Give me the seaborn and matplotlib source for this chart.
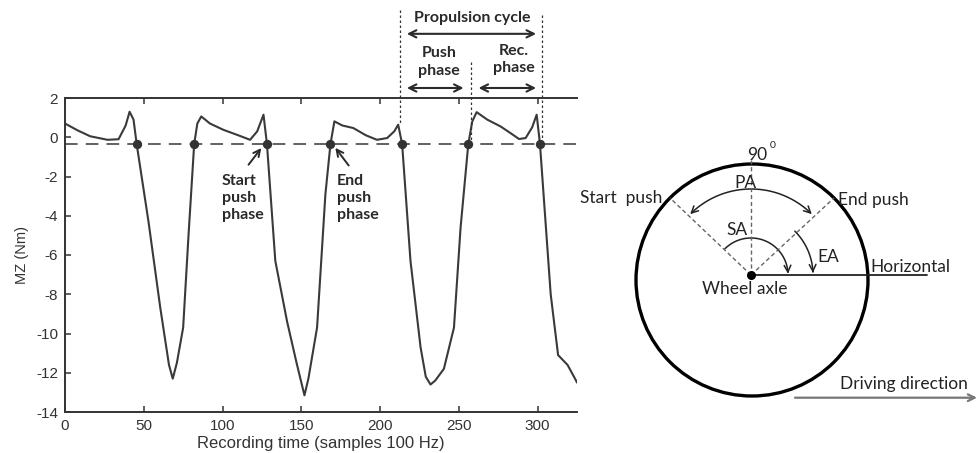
import numpy as np
import matplotlib
matplotlib.use("Agg")
import matplotlib.pyplot as plt
from matplotlib.patches import Circle, FancyArrowPatch
from matplotlib.path import Path
import pandas as pd
import seaborn as sns

# Wheel torque MZ (Nm) against recording time (samples at 100 Hz)
time_samples = [0, 8, 16, 27, 34, 38.5, 41, 43.5, 45.5,
                53, 60.5, 66, 68.4, 71, 75, 78.4, 82, 84, 86.5,
                92, 100.5, 110, 117.5, 122, 126, 128.2,
                133.5, 141, 147, 152, 154.5, 160, 165.3, 168.5, 171,
                176, 183, 191, 198, 204.5, 209, 211.5, 214,
                219.3, 225.7, 229, 232, 235, 240.5, 246.9, 251.1, 256, 258.5, 261.3,
                268, 276.5, 283, 288.2, 292.4, 296.5, 299.4, 301.5,
                308.3, 313, 319, 324.2, 325]
mz_torque = [0.7, 0.35, 0.05, -0.13, -0.1, 0.6, 1.3, 0.9, -0.35,
             -4.3, -8.7, -11.6, -12.3, -11.5, -9.7, -5.0, -0.35, 0.7, 1.06,
             0.7, 0.38, 0.1, -0.13, 0.3, 1.15, -0.35,
             -6.3, -9.4, -11.5, -13.15, -12.3, -9.7, -2.9, -0.35, 0.81,
             0.6, 0.47, 0.1, -0.13, -0.04, 0.3, 0.64, -0.35,
             -6.3, -10.7, -12.2, -12.6, -12.4, -11.8, -9.7, -4.6, -0.35, 0.8, 1.28,
             0.9, 0.55, 0.2, -0.09, -0.04, 0.5, 1.15, -0.35,
             -8.0, -11.1, -11.6, -12.37, -12.5]

# Push detection threshold and the samples where the torque crosses it
threshold = -0.35
crossing_samples = [45.5, 82, 128.2, 168.5, 214, 256, 301.5]

# Boundaries of one propulsion cycle: start push, end push, next start push
cycle_marks = [212.5, 258, 303]

x_ticks = [0, 50, 100, 150, 200, 250, 300]
y_ticks = [-14, -12, -10, -8, -6, -4, -2, 0, 2]

# Wheel diagram angles (degrees from horizontal)
start_push_deg = 135
end_push_deg = 45

sns.set_theme(style="white")
plt.rcParams["font.family"] = ["Liberation Sans", "DejaVu Sans"]
plt.rcParams["axes.unicode_minus"] = False

ink = "#2a2a2a"
fig = plt.figure(figsize=(9.78, 4.53), dpi=100)
W, H = 978.0, 453.0

# ---------------- torque curve ----------------
ax = fig.add_axes([65 / W, 1 - 412 / H, (577 - 65) / W, (412 - 98) / H])
df = pd.DataFrame({"time": time_samples, "MZ": mz_torque})
sns.lineplot(data=df, x="time", y="MZ", ax=ax, color="#3a3a3a", lw=1.5,
             sort=False, estimator=None)
ax.axhline(threshold, color="#555555", lw=1.3, dashes=(7, 4.5), zorder=1)
sns.scatterplot(x=crossing_samples, y=[threshold] * len(crossing_samples), ax=ax,
                s=45, color="#333333", edgecolor="#333333", linewidth=0, zorder=5)

ax.set_xlim(0, 325)
ax.set_ylim(-14, 2)
ax.set_xticks(x_ticks)
ax.set_yticks(y_ticks)
ax.tick_params(direction="in", length=4.5, width=1.1, color="#333333",
               top=True, bottom=True, left=True, right=False,
               labelsize=11, labelcolor="#333333", pad=5)
for side in ["left", "bottom", "top"]:
    ax.spines[side].set_visible(True)
    ax.spines[side].set_color("#333333")
    ax.spines[side].set_linewidth(1.4)
ax.spines["right"].set_visible(False)
ax.set_xlabel("Recording time (samples 100 Hz)", fontsize=12, color="#333333", labelpad=2)
ax.set_ylabel("MZ (Nm)", fontsize=10.5, color="#333333", labelpad=5)

bold = dict(family=["Lato", "DejaVu Sans"], fontweight="bold", fontsize=11.5, color=ink)
ax.text(99.6, -3.09, "Start\npush\nphase", ha="left", va="center", linespacing=1.3, **bold)
ax.text(172.7, -3.09, "End\npush\nphase", ha="left", va="center", linespacing=1.3, **bold)
arr = dict(arrowstyle="->", lw=1.4, color=ink, mutation_scale=12, shrinkA=0, shrinkB=0)
ax.annotate("", xy=(124.6, -0.55), xytext=(116.5, -1.40), arrowprops=arr)
ax.annotate("", xy=(171.6, -0.54), xytext=(180.1, -1.44), arrowprops=arr)

# propulsion cycle markers above the axes
dot = dict(color="#333333", lw=0.9, linestyle=(0, (2, 2)), clip_on=False)
ax.plot([cycle_marks[0]] * 2, [6.5, 0.6], **dot)
ax.plot([cycle_marks[1]] * 2, [3.85, -0.3], **dot)
ax.plot([cycle_marks[2]] * 2, [6.25, -0.3], **dot)
darr = dict(arrowstyle="<->", lw=1.5, color=ink, mutation_scale=13, shrinkA=0, shrinkB=0)
ax.annotate("", xy=(cycle_marks[0] + 4.5, 5.27), xytext=(cycle_marks[2] - 4, 5.27),
            arrowprops=darr, annotation_clip=False)
ax.annotate("", xy=(cycle_marks[0] + 4.5, 2.51), xytext=(cycle_marks[1] - 5, 2.51),
            arrowprops=darr, annotation_clip=False)
ax.annotate("", xy=(cycle_marks[1] + 4.5, 2.51), xytext=(cycle_marks[2] - 4, 2.51),
            arrowprops=darr, annotation_clip=False)
ax.text(258.5, 6.1, "Propulsion cycle", ha="center", va="center", clip_on=False, **bold)
ax.text(237.3, 3.83, "Push\nphase", ha="center", va="center", linespacing=1.3, clip_on=False, **bold)
ax.text(285, 3.95, "Rec.\nphase", ha="center", va="center", linespacing=1.3, clip_on=False, **bold)

# ---------------- wheel diagram ----------------
x0 = 565
ax2 = fig.add_axes([x0 / W, 0, (W - x0) / W, 1])
ax2.set_xlim(x0, W)
ax2.set_ylim(H, 0)
ax2.axis("off")

cx, cy, R = 752, 280, 116
axle = (751, 275)
ax2.add_patch(Circle((cx, cy), R, fill=False, lw=2.4, ec="black"))
ax2.plot(*axle, "o", color="black", ms=5.5, zorder=5)


def on_circle(deg):
    t = np.deg2rad(deg)
    return cx + R * np.cos(t), cy - R * np.sin(t)


grey_dash = dict(color="#666666", lw=1.0, linestyle=(0, (3, 2)))
for deg in (start_push_deg, end_push_deg):
    px, py = on_circle(deg)
    ax2.plot([axle[0], px], [axle[1], py], **grey_dash)
ax2.plot([axle[0], axle[0]], [axle[1], 160], **grey_dash)
ax2.plot([axle[0], 927], [axle[1], axle[1]], color="#222222", lw=1.3)


def arc_arrow(r, a0, a1, style):
    t = np.deg2rad(np.linspace(a0, a1, 60))
    verts = np.column_stack([axle[0] + r * np.cos(t), axle[1] - r * np.sin(t)])
    p = FancyArrowPatch(path=Path(verts), arrowstyle=style, lw=1.1, color="#222222",
                        mutation_scale=12)
    ax2.add_patch(p)


arc_arrow(86, start_push_deg, end_push_deg, "<->")
arc_arrow(37, start_push_deg, 2, "->")
arc_arrow(62, end_push_deg, 2, "->")

txt = dict(family=["Lato", "DejaVu Sans"], fontsize=12.5, color="#222222")
ax2.text(757, 155, "90", ha="center", va="center", **txt)
ax2.text(773, 146, "0", ha="center", va="center", family=["Lato", "DejaVu Sans"],
         fontsize=7.5, color="#222222")
ax2.text(745, 183, "PA", ha="center", va="center", **txt)
ax2.text(737, 230, "SA", ha="center", va="center", **txt)
ax2.text(828, 257, "EA", ha="center", va="center", **txt)
ax2.text(662, 198, "Start  push", ha="right", va="center", **txt)
ax2.text(838, 200, "End push", ha="left", va="center", **txt)
ax2.text(870, 267, "Horizontal", ha="left", va="center", **txt)
ax2.text(745, 289, "Wheel axle", ha="center", va="center", **txt)
ax2.text(840, 384, "Driving direction", ha="left", va="center", **txt)
ax2.annotate("", xy=(977, 397.7), xytext=(795, 397.7), annotation_clip=False,
             arrowprops=dict(arrowstyle="->", lw=1.6, color="#777777",
                             mutation_scale=12, shrinkA=0, shrinkB=0))

fig.savefig("out.png", dpi=100)
